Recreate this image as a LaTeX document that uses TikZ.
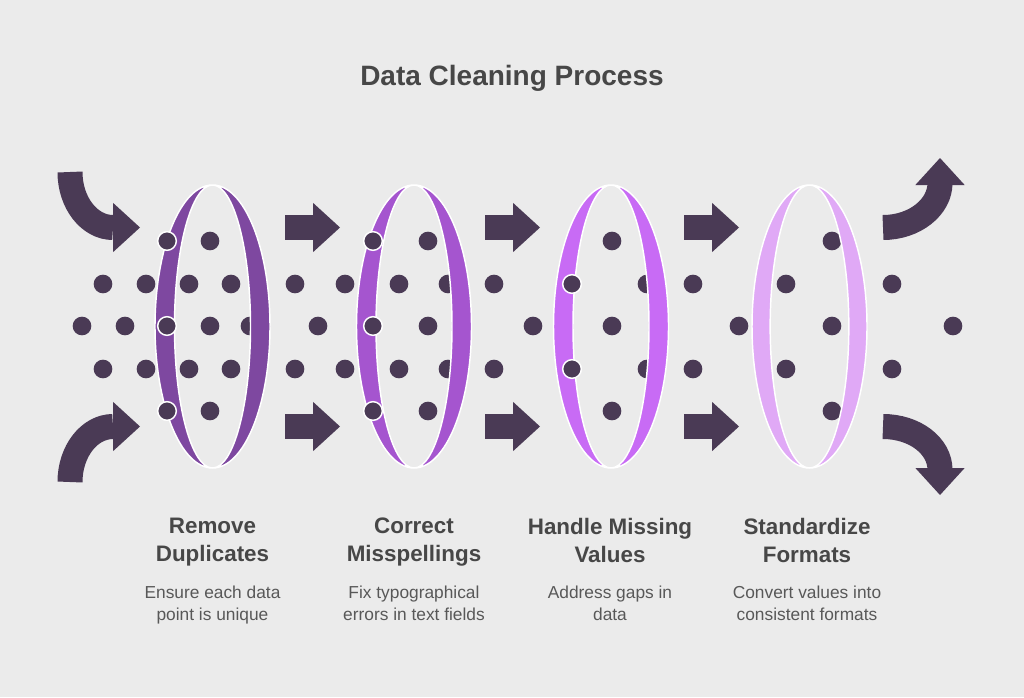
\documentclass[tikz,border=0pt]{standalone}
\usepackage{fontspec}
\setmainfont{Liberation Sans}
\usetikzlibrary{arrows.meta}

\definecolor{paper}{HTML}{EBEBEB}
\definecolor{plum}{HTML}{4A3A55}
\definecolor{ringone}{HTML}{7E48A0}
\definecolor{ringtwo}{HTML}{A555CF}
\definecolor{ringthree}{HTML}{C86BF5}
\definecolor{ringfour}{HTML}{E0A9F6}
\definecolor{headgray}{HTML}{474747}
\definecolor{bodygray}{HTML}{585858}

\tikzstyle{bead} = [circle, fill=plum, inner sep=0pt, minimum size=14pt]
\tikzstyle{frontbead} = [bead, draw=white, line width=1.1pt]
\tikzstyle{flow} = [draw=plum, line width=18.75pt, -{Triangle[length=20.25pt, width=37pt, line width=0pt]}]
\tikzstyle{ring} = [draw=white, line width=1.1pt, even odd rule]
\tikzstyle{title} = [font=\fontsize{21}{25}\selectfont\bfseries, text=headgray]
\tikzstyle{heading} = [font=\fontsize{16.8}{21}\selectfont\bfseries, text=headgray, align=center, anchor=north, inner sep=0pt]
\tikzstyle{blurb} = [font=\fontsize{13}{16.5}\selectfont, text=bodygray, align=center, anchor=north, inner sep=0pt]

\begin{document}
\begin{tikzpicture}[x=0.75pt,y=-0.75pt]
\useasboundingbox (0,0) rectangle (1024,697);
\fill[paper] (0,0) rectangle (1024,697);

\node[title] (title) at (512,78) {Data Cleaning Process};

% dots behind the rings
\foreach \x in {210,428,612,832} {
  \node[bead] (top-\x) at (\x,241) {};
  \node[bead] (bot-\x) at (\x,411) {};
}
\foreach \x in {103,146,189,231,295,345,399,448,494,647,693,786,892} {
  \node[bead] (up-\x) at (\x,284) {};
  \node[bead] (low-\x) at (\x,369) {};
}
\foreach \x in {82,125,210,250,318,428,533,612,739,832,953}
  \node[bead] (mid-\x) at (\x,326) {};

\coordinate (r1) at (212.5,326.5);
\coordinate (r2) at (414,326.5);
\coordinate (r3) at (611,326.5);
\coordinate (r4) at (809.5,326.5);

\path[ring, fill=ringone] (r1) ellipse [x radius=43.125pt, y radius=106.125pt]
  (r1) ellipse [x radius=28.5pt, y radius=106.125pt];
\path[ring, fill=ringtwo] (r2) ellipse [x radius=43.125pt, y radius=106.125pt]
  (r2) ellipse [x radius=28.5pt, y radius=106.125pt];
\path[ring, fill=ringthree] (r3) ellipse [x radius=43.125pt, y radius=106.125pt]
  (r3) ellipse [x radius=28.5pt, y radius=106.125pt];
\path[ring, fill=ringfour] (r4) ellipse [x radius=43.125pt, y radius=106.125pt]
  (r4) ellipse [x radius=29.5pt, y radius=106.125pt];

% dots in front of the rings
\foreach \x/\y in {167/241,373/241,167/326,373/326,167/411,373/411,572/284,572/369}
  \node[frontbead] (front-\x-\y) at (\x,\y) {};

% straight arrows
\foreach \i/\x in {1/285,2/485,3/684} {
  \coordinate (hi\i) at (\x,227.5);
  \coordinate (hiend\i) at (\x+55,227.5);
  \coordinate (lo\i) at (\x,426.5);
  \coordinate (loend\i) at (\x+55,426.5);
  \draw[flow] (hi\i) -- (hiend\i);
  \draw[flow] (lo\i) -- (loend\i);
}

% curved arrows in and out
\coordinate (inA) at (70,172);
\coordinate (inAbend) at (113,227.5);
\coordinate (inAtip) at (140,227.5);
\coordinate (inB) at (70,482);
\coordinate (inBbend) at (113,426.5);
\coordinate (inBtip) at (140,426.5);
\coordinate (outA) at (883,227.5);
\coordinate (outAbend) at (940,183);
\coordinate (outAtip) at (940,158);
\coordinate (outB) at (883,426.5);
\coordinate (outBbend) at (940,470);
\coordinate (outBtip) at (940,495);

\draw[flow] (inA) .. controls +(0,30.7) and +(-23.7,0) .. (inAbend) -- (inAtip);
\draw[flow] (inB) .. controls +(0,-30.7) and +(-23.7,0) .. (inBbend) -- (inBtip);
\draw[flow] (outA) .. controls +(31.5,0) and +(0,24.3) .. (outAbend) -- (outAtip);
\draw[flow] (outB) .. controls +(31.5,0) and +(0,-24.3) .. (outBbend) -- (outBtip);

\node[heading] (h1) at (212.5,518) {Remove\\Duplicates};
\node[heading] (h2) at (414,518) {Correct\\Misspellings};
\node[heading] (h3) at (610,518) {Handle Missing\\Values};
\node[heading] (h4) at (807,518) {Standardize\\Formats};

\node[blurb] (d1) at (212.5,586) {Ensure each data\\point is unique};
\node[blurb] (d2) at (414,586) {Fix typographical\\errors in text fields};
\node[blurb] (d3) at (610,586) {Address gaps in\\data};
\node[blurb] (d4) at (807,586) {Convert values into\\consistent formats};

\end{tikzpicture}
\end{document}
